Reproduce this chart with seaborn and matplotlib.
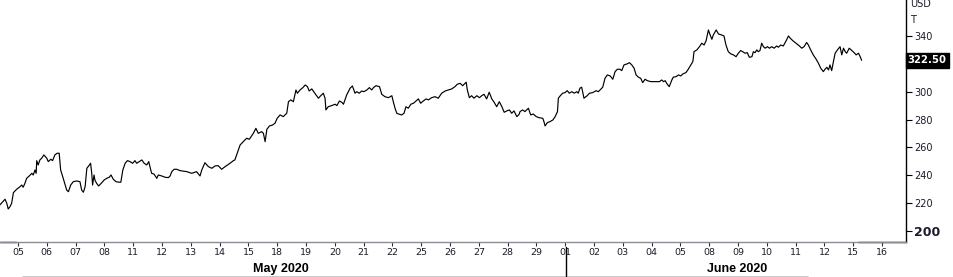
import matplotlib
matplotlib.use("Agg")
import matplotlib.pyplot as plt
import matplotlib.transforms as mtransforms
from matplotlib.lines import Line2D
import seaborn as sns
import pandas as pd

# ---- data (trading-day time index, price in USD) ----
t_days = [
    -0.63, -0.53, -0.45, -0.39, -0.34, -0.28, -0.22, -0.16, -0.05, 0.07, 0.13, 0.18, 0.24, 0.30, 0.39, 0.48,
    0.53, 0.59, 0.63, 0.65, 0.70, 0.76, 0.82, 0.90, 1.00, 1.05, 1.14, 1.20, 1.28, 1.36, 1.43, 1.48,
    1.57, 1.69, 1.75, 1.83, 1.92, 2.04, 2.15, 2.21, 2.27, 2.33, 2.39, 2.48, 2.52, 2.56, 2.59, 2.64,
    2.67, 2.73, 2.80, 2.91, 2.99, 3.08, 3.17, 3.23, 3.31, 3.40, 3.52, 3.57, 3.64, 3.72, 3.80, 3.89,
    3.98, 4.06, 4.12, 4.21, 4.30, 4.38, 4.47, 4.54, 4.58, 4.64, 4.72, 4.82, 4.87, 4.99, 5.10, 5.22,
    5.28, 5.34, 5.42, 5.51, 5.63, 5.86, 6.03, 6.20, 6.32, 6.38, 6.49, 6.61, 6.73, 6.84, 6.95, 7.07,
    7.19, 7.36, 7.48, 7.53, 7.61, 7.71, 7.82, 7.94, 8.03, 8.17, 8.26, 8.34, 8.46, 8.52, 8.58, 8.64,
    8.73, 8.84, 8.92, 9.00, 9.10, 9.21, 9.33, 9.39, 9.47, 9.56, 9.65, 9.70, 9.79, 9.89, 9.97, 10.05,
    10.11, 10.20, 10.28, 10.37, 10.43, 10.51, 10.60, 10.66, 10.69, 10.77, 10.89, 11.01, 11.07, 11.16, 11.24, 11.30,
    11.41, 11.53, 11.61, 11.70, 11.76, 11.85, 11.93, 12.01, 12.11, 12.20, 12.28, 12.34, 12.43, 12.55, 12.63, 12.74,
    12.86, 12.98, 13.03, 13.09, 13.15, 13.24, 13.32, 13.40, 13.47, 13.55, 13.64, 13.73, 13.82, 13.90, 13.98, 14.07,
    14.17, 14.25, 14.36, 14.48, 14.59, 14.71, 14.83, 14.94, 15.06, 15.17, 15.25, 15.35, 15.44, 15.49, 15.56, 15.60,
    15.67, 15.75, 15.83, 15.93, 16.02, 16.10, 16.18, 16.27, 16.36, 16.45, 16.53, 16.62, 16.71, 16.80, 16.88, 16.97,
    17.06, 17.14, 17.22, 17.32, 17.40, 17.43, 17.52, 17.60, 17.72, 17.80, 17.89, 17.99, 18.10, 18.22, 18.26, 18.30,
    18.38, 18.47, 18.57, 18.65, 18.73, 18.76, 18.82, 18.91, 18.99, 19.07, 19.14, 19.23, 19.31, 19.40, 19.45, 19.51,
    19.57, 19.61, 19.65, 19.75, 19.84, 19.95, 20.07, 20.15, 20.23, 20.30, 20.38, 20.46, 20.56, 20.65, 20.73, 20.81,
    20.90, 20.96, 21.04, 21.14, 21.23, 21.31, 21.39, 21.46, 21.54, 21.62, 21.69, 21.77, 21.85, 21.97, 22.12, 22.27,
    22.35, 22.41, 22.47, 22.52, 22.61, 22.70, 22.75, 22.85, 22.93, 23.01, 23.08, 23.19, 23.27, 23.36, 23.43, 23.47,
    23.57, 23.66, 23.74, 23.82, 23.89, 23.97, 24.03, 24.09, 24.14, 24.24, 24.32, 24.43, 24.51, 24.58, 24.66, 24.75,
    24.84, 24.93, 25.01, 25.09, 25.16, 25.24, 25.32, 25.39, 25.48, 25.53, 25.59, 25.65, 25.70, 25.76, 25.82, 25.88,
    25.94, 26.02, 26.09, 26.17, 26.25, 26.34, 26.40, 26.48, 26.57, 26.67, 26.75, 26.81, 26.90, 27.01, 27.13, 27.21,
    27.29, 27.38, 27.44, 27.52, 27.61, 27.71, 27.79, 27.87, 27.96, 28.02, 28.08, 28.14, 28.19, 28.25, 28.31, 28.37,
    28.45, 28.54, 28.60, 28.66, 28.72, 28.77, 28.86, 28.95, 29.03, 29.10, 29.18, 29.24, 29.29,
]
price = [
    218.7, 221.0, 222.8, 219.9, 215.8, 217.4, 219.9, 227.5, 229.9, 231.8, 233.0, 231.4, 234.2, 237.8, 239.5, 241.4,
    240.2, 243.8, 241.4, 250.5, 247.4, 251.0, 252.2, 254.6, 252.2, 249.8, 251.5, 250.5, 254.6, 255.8, 255.8, 243.8,
    237.8, 229.4, 228.2, 233.0, 235.4, 235.9, 235.4, 229.4, 227.8, 231.8, 245.0, 247.4, 248.6, 241.4, 233.0, 240.2,
    236.6, 234.2, 232.3, 234.7, 236.6, 237.8, 238.6, 240.2, 237.1, 235.4, 235.0, 235.0, 243.8, 248.6, 250.5, 249.8,
    248.6, 250.5, 248.6, 249.8, 251.0, 248.6, 247.4, 249.8, 246.2, 241.4, 240.9, 237.8, 240.2, 239.5, 238.6, 238.3,
    239.5, 242.6, 244.3, 244.3, 243.3, 242.6, 241.4, 242.6, 239.5, 243.8, 249.0, 246.2, 245.0, 246.7, 246.9, 244.3,
    246.2, 248.6, 250.5, 251.0, 255.8, 261.7, 264.1, 266.6, 265.8, 270.1, 273.7, 270.1, 271.3, 270.1, 264.1, 273.0,
    275.4, 276.1, 277.3, 280.9, 283.3, 282.1, 284.5, 292.8, 294.1, 292.8, 301.2, 298.9, 301.2, 302.9, 304.8, 303.6,
    300.5, 302.0, 299.6, 297.1, 295.3, 297.1, 298.9, 295.3, 286.9, 289.2, 290.0, 291.0, 290.0, 293.3, 292.4, 291.0,
    297.6, 302.5, 304.1, 298.9, 300.0, 298.9, 300.5, 300.0, 301.2, 302.9, 301.2, 302.9, 304.3, 303.6, 298.1, 296.4,
    295.7, 297.1, 292.8, 288.1, 284.5, 283.8, 283.3, 284.5, 289.2, 288.1, 291.0, 291.7, 293.3, 294.8, 291.7, 293.3,
    294.8, 294.1, 295.7, 296.4, 295.3, 298.9, 300.5, 301.2, 302.0, 303.6, 305.3, 306.0, 304.3, 305.3, 306.8, 301.2,
    295.7, 297.1, 295.3, 297.1, 295.7, 297.1, 298.1, 294.8, 299.6, 294.8, 292.4, 289.2, 292.8, 289.2, 285.2, 286.2,
    286.9, 284.5, 286.2, 282.1, 283.8, 285.7, 286.9, 285.7, 288.1, 283.3, 284.0, 282.1, 281.3, 280.9, 278.5, 275.4,
    277.8, 278.5, 279.7, 282.1, 285.7, 295.3, 296.9, 298.9, 299.3, 300.7, 298.9, 300.0, 298.9, 300.0, 298.9, 302.5,
    303.2, 299.3, 295.3, 296.9, 298.9, 299.3, 300.7, 300.0, 301.7, 303.2, 309.6, 312.0, 311.3, 308.9, 314.4, 316.1,
    316.1, 315.1, 319.2, 319.9, 320.8, 319.2, 316.8, 312.0, 310.4, 309.6, 306.5, 308.9, 307.9, 307.2, 307.2, 307.2,
    308.4, 307.2, 307.9, 306.0, 303.6, 308.4, 310.4, 310.8, 312.0, 311.3, 312.7, 313.7, 316.1, 319.2, 321.6, 328.7,
    330.0, 332.3, 334.8, 333.5, 336.6, 344.3, 340.7, 337.6, 340.7, 344.3, 341.4, 340.7, 340.0, 333.5, 328.7, 327.1,
    326.4, 325.1, 327.6, 329.5, 328.7, 327.6, 328.0, 324.7, 325.1, 328.7, 328.0, 330.0, 328.7, 329.5, 334.8, 332.3,
    331.2, 332.3, 331.2, 332.3, 331.2, 332.8, 331.9, 333.5, 332.8, 336.6, 340.0, 338.4, 336.6, 334.8, 332.8, 331.2,
    332.3, 335.3, 333.5, 330.0, 326.4, 323.3, 320.4, 316.8, 314.4, 316.1, 317.5, 315.6, 319.2, 315.1, 321.6, 327.6,
    330.0, 332.3, 326.4, 331.2, 328.7, 327.6, 331.2, 329.5, 328.0, 326.4, 327.6, 325.1, 322.5,
]
day_labels = ["05", "06", "07", "08", "11", "12", "13", "14", "15", "18", "19", "20", "21", "22", "25", "26",
              "27", "28", "29", "01", "02", "03", "04", "05", "08", "09", "10", "11", "12", "15", "16"]
month_labels = ["May 2020", "June 2020"]
y_ticks = [200, 220, 240, 260, 280, 300, 340]
last_price = 322.50

df = pd.DataFrame({"t": t_days, "price": price})

# ---- figure ----
sns.set_theme(style="white")
plt.rcParams["font.family"] = ["DejaVu Sans"]

W, H = 954, 277
fig = plt.figure(figsize=(W / 100, H / 100), dpi=100)
ax = fig.add_axes([0, (H - 242) / H, 906 / W, 242 / H])

sns.lineplot(data=df, x="t", y="price", ax=ax, color="black", linewidth=0.85, sort=False)

ax.set_xlim(-0.625, 30.83)
ax.set_ylim(192.1, 365.8)
ax.set_xlabel("")
ax.set_ylabel("")

for s in ["top", "left"]:
    ax.spines[s].set_visible(False)
ax.spines["right"].set_color("black")
ax.spines["right"].set_linewidth(1.0)
ax.spines["bottom"].set_color("#8c8c9c")
ax.spines["bottom"].set_linewidth(1.0)

# y axis on right (320 is hidden under the last-price tag)
ax.yaxis.tick_right()
ax.set_yticks(y_ticks)
ax.set_yticklabels([str(v) for v in y_ticks])
ax.tick_params(axis="y", which="both", direction="out", length=4, width=0.8, color="black",
               labelsize=7, labelcolor="#1a1a2a", pad=2, right=True, left=False)
for lab in ax.get_yticklabels():
    if lab.get_text() == "200":
        lab.set_fontweight("bold")
        lab.set_fontsize(9)

# x axis
ax.set_xticks(range(len(day_labels)))
ax.set_xticklabels(day_labels)
ax.tick_params(axis="x", direction="out", length=3, width=0.8, color="#333333",
               labelsize=6.8, labelcolor="#1a1a2a", pad=1.5, bottom=True)
ax.grid(False)

# black corner pieces on bottom axis
bt = mtransforms.blended_transform_factory(ax.transData, ax.transAxes)
ax.plot([-0.625, -0.07], [0, 0], transform=bt, color="black", linewidth=1.0, clip_on=False)
ax.plot([29.15, 30.83], [0, 0], transform=bt, color="black", linewidth=1.0, clip_on=False)

# last price tag
trans = mtransforms.blended_transform_factory(ax.transAxes, ax.transData)
ax.text(1.002, last_price, f"{last_price:.2f}", transform=trans, ha="left", va="center",
        fontsize=7.3, fontweight="bold", color="white", clip_on=False,
        bbox=dict(boxstyle="square,pad=0.22", facecolor="black", edgecolor="black"))

# currency / unit labels
fig.text(910 / W, 1 - 4 / H, "USD", fontsize=7, color="#1a1a2a", ha="left", va="center")
fig.text(910 / W, 1 - 20 / H, "T", fontsize=7, color="#1a1a2a", ha="left", va="center")

# month labels
fig.text(281 / W, 1 - 269 / H, month_labels[0], fontsize=9, fontweight="bold", color="black",
         ha="center", va="center", family="Liberation Sans")
fig.text(737 / W, 1 - 269 / H, month_labels[1], fontsize=9, fontweight="bold", color="black",
         ha="center", va="center", family="Liberation Sans")

# month separator and bottom grey rule
fig.add_artist(Line2D([23 / W, 808 / W], [1 - 276.5 / H, 1 - 276.5 / H], color="#c0c0c0", linewidth=1.2))
fig.add_artist(Line2D([565.5 / W, 565.5 / W], [1 - 247 / H, 1 - 276 / H], color="black", linewidth=1.0))

fig.savefig("out.png", dpi=100)
